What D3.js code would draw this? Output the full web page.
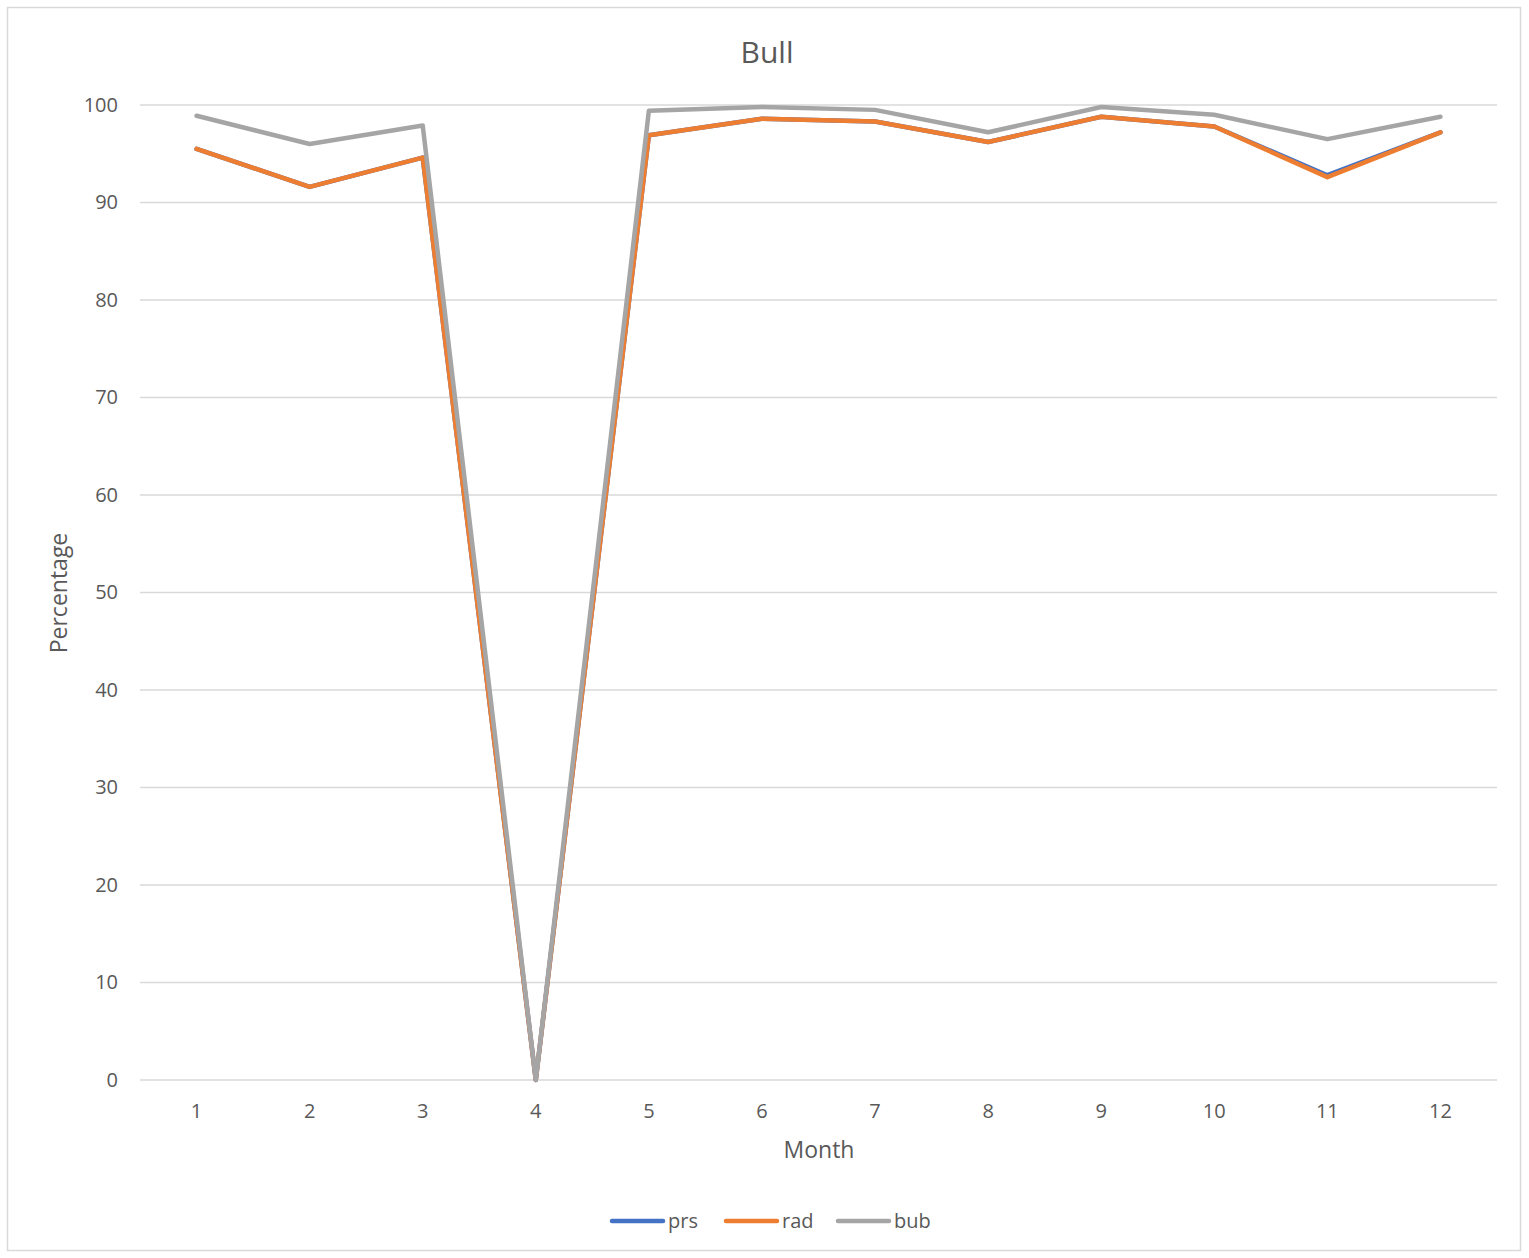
<!DOCTYPE html>
<html><head><meta charset="utf-8">
<script src="https://cdn.jsdelivr.net/npm/d3@7"></script>
<style>body{margin:0;background:#fff;} text{font-family:"Open Sans","Noto Sans",sans-serif;}</style>
</head><body>
<svg id="c" width="1529" height="1258"></svg>
<script>
const months = ["1","2","3","4","5","6","7","8","9","10","11","12"];
const prs = [95.5, 91.6, 94.6, 0, 96.9, 98.6, 98.3, 96.2, 98.8, 97.8, 92.8, 97.2];
const rad = [95.5, 91.6, 94.6, 0, 96.9, 98.6, 98.3, 96.2, 98.8, 97.8, 92.6, 97.2];
const bub = [98.9, 96.0, 97.9, 0, 99.4, 99.8, 99.5, 97.2, 99.8, 99.0, 96.5, 98.8];
const yTicks = [0,10,20,30,40,50,60,70,80,90,100];
const seriesNames = ["prs","rad","bub"];
const colors = ["#4472C4","#ED7D31","#A5A5A5"];
const series = [prs, rad, bub];

const svg = d3.select("#c");
svg.append("rect").attr("x",7.5).attr("y",7.5).attr("width",1513).attr("height",1243)
  .attr("fill","#fff").attr("stroke","#d9d9d9").attr("stroke-width",1.5);

const L=140, R=1497, T=105, B=1080;
const x = d3.scaleBand().domain(months).range([L,R]);
const y = d3.scaleLinear().domain([0,100]).range([B,T]);

const g = svg.append("g");
g.selectAll("line.grid").data(yTicks).enter().append("line")
  .attr("x1",L).attr("x2",R).attr("y1",d=>y(d)).attr("y2",d=>y(d))
  .attr("stroke","#d9d9d9").attr("stroke-width",1.5);

const yAxis = d3.axisLeft(y).tickValues(yTicks).tickSize(0).tickPadding(22);
const ya = svg.append("g").attr("transform",`translate(${L},0)`).call(yAxis);
ya.select(".domain").remove();
ya.selectAll("text").attr("font-size",20).attr("fill","#595959").style("font-family","'Open Sans','Noto Sans',sans-serif");

const xAxis = d3.axisBottom(x).tickSize(0).tickPadding(24);
const xa = svg.append("g").attr("transform",`translate(0,${B})`).call(xAxis);
xa.select(".domain").remove();
xa.selectAll("text").attr("font-size",20).attr("fill","#595959").style("font-family","'Open Sans','Noto Sans',sans-serif");

const line = d3.line().x((d,i)=>x(months[i])+x.bandwidth()/2).y(d=>y(d)).curve(d3.curveLinear);
series.forEach((s,k)=>{
  svg.append("path").datum(s).attr("d",line).attr("fill","none")
    .attr("stroke",colors[k]).attr("stroke-width",4.5)
    .attr("stroke-linejoin","round").attr("stroke-linecap","round");
});

svg.append("text").attr("x",767).attr("y",63).attr("text-anchor","middle")
  .attr("font-size",30).attr("fill","#595959").text("Bull");
svg.append("text").attr("x",819).attr("y",1158).attr("text-anchor","middle")
  .attr("font-size",23).attr("fill","#595959").text("Month");
svg.append("text").attr("transform","translate(67,593) rotate(-90)").attr("text-anchor","middle")
  .attr("font-size",23).attr("fill","#595959").text("Percentage");

const legX = [610, 724, 836];
seriesNames.forEach((n,k)=>{
  svg.append("line").attr("x1",legX[k]+2).attr("x2",legX[k]+53).attr("y1",1221).attr("y2",1221)
    .attr("stroke",colors[k]).attr("stroke-width",4.5).attr("stroke-linecap","round");
  svg.append("text").attr("x",legX[k]+58).attr("y",1228).attr("font-size",20).attr("fill","#595959").text(n);
});
</script>
</body></html>
